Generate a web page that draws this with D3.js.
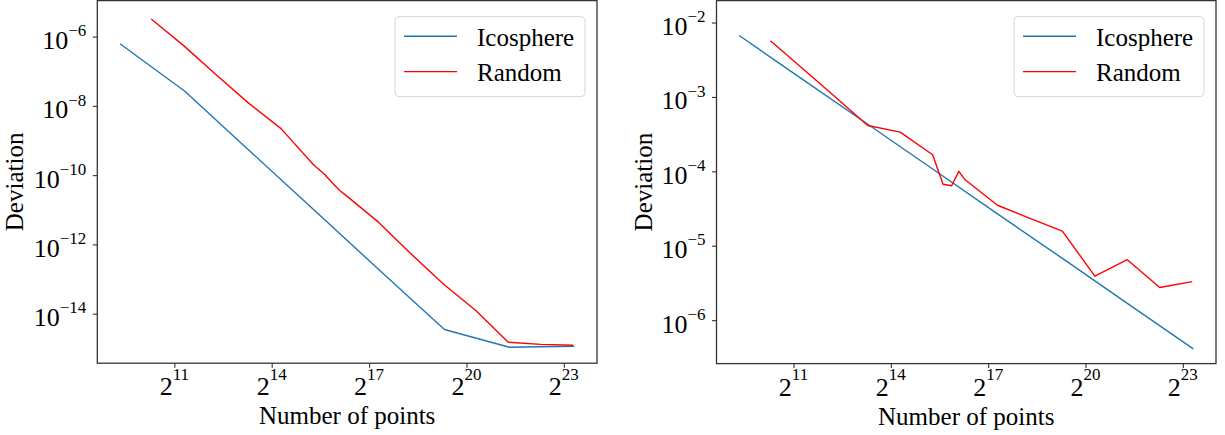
<!DOCTYPE html>
<html>
<head>
<meta charset="utf-8">
<script src="https://cdn.jsdelivr.net/npm/d3@7/dist/d3.min.js"></script>
<style>
  body { margin: 0; background: #fff; }
  text { font-family: "Liberation Serif", "Times New Roman", serif; fill: #000; }
</style>
</head>
<body>
<div class="chart"></div>
<script>
// number of points for each run
var icoN = [642, 2562, 10242, 40962, 163842, 655362, 2621442, 10485762];
var randN = [1250, 2500, 5000, 10000, 20000, 40000, 50000, 60000, 70000, 80000,
  160000, 320000, 640000, 1280000, 2560000, 5120000, 10240000];

// left panel deviations
var leftIco = [6.2e-7, 2.64e-8, 5.0e-10, 9.5e-12, 1.8e-13, 3.5e-15, 1.07e-15, 1.15e-15];
var leftRand = [3.24e-6, 5.5e-7, 7.9e-8, 1.2e-8, 2.2e-9, 2.0e-10, 1.1e-10, 5.9e-11, 3.6e-11,
  2.6e-11, 4.4e-12, 5.4e-13, 7.2e-14, 1.23e-14, 1.5e-15, 1.3e-15, 1.23e-15];

// right panel deviations
var rightIco = [6.7e-3, 1.67e-3, 4.2e-4, 1.05e-4, 2.62e-5, 6.6e-6, 1.64e-6, 4.12e-7];
var rightRand = [5.7e-3, 2.4e-3, 1.0e-3, 4.14e-4, 3.37e-4, 1.67e-4, 6.7e-5, 6.4e-5, 1.0e-4,
  7.7e-5, 3.5e-5, 2.34e-5, 1.57e-5, 3.9e-6, 6.5e-6, 2.75e-6, 3.3e-6];

// ticks (exponents)
var xTickExps = [11, 14, 17, 20, 23];
var leftYTickExps = [-6, -8, -10, -12, -14];
var rightYTickExps = [-2, -3, -4, -5, -6];
var leftYLim = [Math.pow(10, -15.43), Math.pow(10, -4.96)];
var rightYLim = [Math.pow(10, -6.584), Math.pow(10, -1.705)];

var seriesNames = ["Icosphere", "Random"];
var seriesColors = ["#1f77b4", "#ff0000"];

var svgWidth = 1225;
var svgHeight = 435;

var svg = d3.select(".chart")
  .append("svg")
  .attr("width", svgWidth)
  .attr("height", svgHeight);

// x limits like matplotlib: 5% margin in log space
function xLimits() {
  var all = icoN.concat(randN);
  var lo = Math.log2(d3.min(all)), hi = Math.log2(d3.max(all));
  var pad = (hi - lo) * 0.05;
  return [Math.pow(2, lo - pad), Math.pow(2, hi + pad)];
}

function drawPanel(p) {
  var width = p.width, height = p.height;
  var g = svg.append("g").attr("transform", `translate(${p.left}, ${p.top})`);

  var xScale = d3.scaleLog().base(2).domain(xLimits()).range([0, width]);
  var yScale = d3.scaleLog().domain(p.yLim).range([height, 0]);

  var line = d3.line()
    .x(d => xScale(d[0]))
    .y(d => yScale(d[1]));

  var series = [
    d3.zip(icoN, p.ico),
    d3.zip(randN, p.rand)
  ];

  g.selectAll("path.series")
    .data(series)
    .enter()
    .append("path")
    .attr("class", "series")
    .attr("d", line)
    .attr("fill", "none")
    .attr("stroke", (d, i) => seriesColors[i])
    .attr("stroke-width", 1.4)
    .attr("stroke-linejoin", "round");

  // ticks
  var bottomAxis = d3.axisBottom(xScale)
    .tickValues(xTickExps.map(e => Math.pow(2, e)))
    .tickSize(4.5)
    .tickFormat("");
  var leftAxis = d3.axisLeft(yScale)
    .tickValues(p.yTicks.map(e => Math.pow(10, e)))
    .tickSize(4.5)
    .tickFormat("");

  var xAxis = g.append("g")
    .attr("transform", `translate(0, ${height})`)
    .call(bottomAxis);
  var yAxis = g.append("g").call(leftAxis);
  [xAxis, yAxis].forEach(function(a) {
    a.select(".domain").remove();
    a.selectAll("line").attr("stroke", "#333").attr("stroke-width", 1.1);
  });

  // x tick labels 2^n
  var xl = g.selectAll("text.xlab")
    .data(xTickExps)
    .enter()
    .append("text")
    .attr("class", "xlab")
    .attr("x", d => xScale(Math.pow(2, d)))
    .attr("y", height + 32)
    .attr("text-anchor", "middle");
  xl.append("tspan").style("font-size", "26px").text("2");
  xl.append("tspan").style("font-size", "17px").attr("dy", -15.5).text(d => d);

  // y tick labels 10^n
  var yl = g.selectAll("text.ylab")
    .data(p.yTicks)
    .enter()
    .append("text")
    .attr("class", "ylab")
    .attr("x", -11)
    .attr("y", d => yScale(Math.pow(10, d)) + 12.5)
    .attr("text-anchor", "end");
  yl.append("tspan").style("font-size", "26px").text("10");
  yl.append("tspan").style("font-size", "17px").attr("dy", -12.8).text(d => "\u2212" + Math.abs(d));

  // frame
  g.append("rect")
    .attr("width", width)
    .attr("height", height)
    .attr("fill", "none")
    .attr("stroke", "#333")
    .attr("stroke-width", 1.3);

  // axis labels
  g.append("text")
    .attr("x", width / 2)
    .attr("y", height + 61)
    .attr("text-anchor", "middle")
    .style("font-size", "25px")
    .text("Number of points");

  g.append("text")
    .attr("transform", "rotate(-90)")
    .attr("x", -height / 2)
    .attr("y", -p.ylabelOffset)
    .attr("text-anchor", "middle")
    .style("font-size", "25px")
    .text("Deviation");

  // legend
  var lgW = 190, lgH = 80;
  var legend = g.append("g")
    .attr("transform", `translate(${width - 12 - lgW}, 16)`);
  legend.append("rect")
    .attr("width", lgW)
    .attr("height", lgH)
    .attr("rx", 4)
    .attr("fill", "#fff")
    .attr("fill-opacity", 0.8)
    .attr("stroke", "#d6d6d6")
    .attr("stroke-width", 1);
  var rows = legend.selectAll("g.row")
    .data(seriesNames)
    .enter()
    .append("g")
    .attr("class", "row")
    .attr("transform", (d, i) => `translate(0, ${19.7 + i * 35.3})`);
  rows.append("line")
    .attr("x1", 9)
    .attr("x2", 62)
    .attr("stroke", (d, i) => seriesColors[i])
    .attr("stroke-width", 1.4);
  rows.append("text")
    .attr("x", 82)
    .attr("y", 9.3)
    .style("font-size", "25px")
    .text(d => d);
}

drawPanel({
  left: 97.3, top: 0.6, width: 499.7, height: 362.6,
  ico: leftIco, rand: leftRand, yLim: leftYLim, yTicks: leftYTickExps,
  ylabelOffset: 74.3
});

drawPanel({
  left: 716.5, top: 0.6, width: 499.5, height: 363,
  ico: rightIco, rand: rightRand, yLim: rightYLim, yTicks: rightYTickExps,
  ylabelOffset: 65
});
</script>
</body>
</html>
